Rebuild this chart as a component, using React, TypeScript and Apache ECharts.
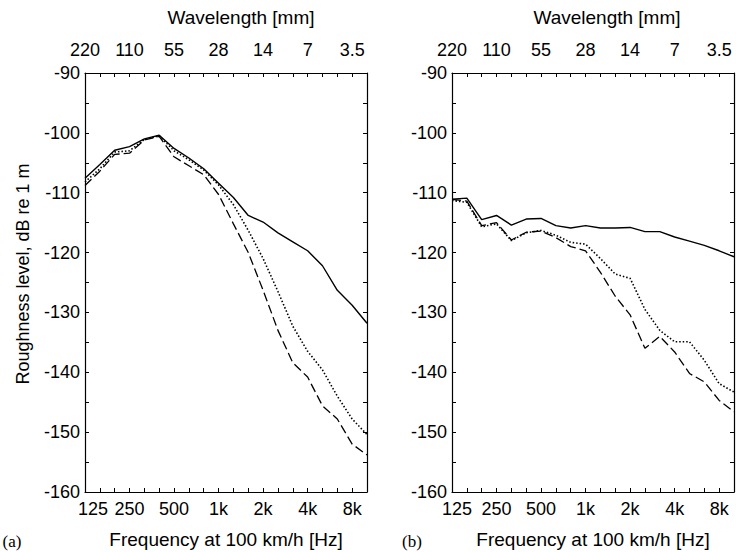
import React, { useEffect, useRef } from "react";
import * as echarts from "echarts";

// third-octave band centre frequencies at 100 km/h [Hz]
const bands = ["125", "160", "200", "250", "315", "400", "500", "630", "800", "1k", "1.25k", "1.6k", "2k", "2.5k", "3.15k", "4k", "5k", "6.3k", "8k", "10k"];
// wavelength labels [mm] shown every octave on the top axis
const wavelengthLabels = ["220", "110", "55", "28", "14", "7", "3.5"];

// panel (a)
const aSolid = [-107.6, -105.3, -102.9, -102.3, -101.0, -100.4, -102.6, -104.2, -106.0, -108.4, -110.8, -113.8, -114.9, -116.7, -118.2, -119.7, -122.2, -126.3, -128.8, -131.8];
const aDotted = [-108.2, -106.0, -103.2, -103.0, -101.1, -100.5, -103.0, -104.5, -106.2, -108.7, -112.0, -116.3, -121.0, -126.5, -132.3, -136.5, -139.6, -144.0, -147.8, -150.4];
const aDashed = [-108.8, -106.4, -103.6, -103.4, -101.2, -100.6, -104.0, -105.5, -107.0, -110.3, -115.2, -120.0, -126.3, -133.0, -138.4, -140.8, -145.6, -147.8, -152.0, -153.8];

// panel (b)
const bSolid = [-111.1, -110.9, -114.5, -113.8, -115.4, -114.4, -114.3, -115.5, -115.9, -115.5, -115.9, -115.9, -115.8, -116.5, -116.5, -117.4, -118.1, -118.8, -119.7, -120.7];
const bDotted = [-111.3, -111.6, -115.7, -115.2, -118.0, -116.7, -116.3, -117.1, -118.3, -118.6, -121.0, -123.6, -124.3, -129.5, -133.0, -134.9, -134.9, -138.0, -141.9, -143.3];
const bDashed = [-111.1, -111.4, -115.5, -115.0, -117.9, -116.6, -116.4, -117.5, -119.0, -119.7, -123.3, -127.3, -130.4, -136.0, -134.0, -136.6, -140.2, -141.6, -144.7, -146.6];

const yMin = -160;
const yMax = -90;
const yStep = 5;

const FONT = "Liberation Sans, Arial, Helvetica, sans-serif";
const SERIF = "Liberation Serif, Times New Roman, serif";

const showOctave = (i: number) => i % 3 === 0 && i < 19;

function xAxes(gridIndex: number, firstShift: number) {
  const common = {
    type: "category",
    gridIndex,
    boundaryGap: false,
    axisLine: { show: true, onZero: false, lineStyle: { color: "#000", width: 1.2 } },
    axisTick: { show: true, inside: true, length: 4, interval: 0, lineStyle: { color: "#000", width: 1 } },
    splitLine: { show: false },
  };
  return [
    {
      ...common,
      data: bands.map((b, i) => (i === 0 ? { value: b, textStyle: { padding: [0, 0, 0, firstShift * 2] } } : b)),
      position: "bottom",
      axisLabel: { interval: showOctave, fontSize: 18, color: "#000", margin: 8, fontFamily: FONT },
    },
    {
      ...common,
      data: bands,
      position: "top",
      axisLabel: {
        interval: showOctave,
        fontSize: 18,
        color: "#000",
        margin: 14,
        fontFamily: FONT,
        formatter: (_v: string, i: number) => wavelengthLabels[i / 3] ?? "",
      },
    },
  ];
}

function yAxes(gridIndex: number) {
  const common = {
    type: "value",
    gridIndex,
    min: yMin,
    max: yMax,
    interval: yStep,
    axisLine: { show: true, onZero: false, lineStyle: { color: "#000", width: 1.2 } },
    axisTick: { show: true, inside: true, length: 4, lineStyle: { color: "#000", width: 1 } },
    splitLine: { show: false },
  };
  return [
    {
      ...common,
      position: "left",
      axisLabel: {
        fontSize: 18,
        color: "#000",
        margin: 5,
        fontFamily: FONT,
        formatter: (v: number) => (v % 10 === 0 ? String(v) : ""),
      },
    },
    { ...common, position: "right", axisLabel: { show: false } },
  ];
}

function line(name: string, data: number[], xi: number, yi: number, kind: "solid" | "dotted" | "dashed") {
  const style: any = { color: "#000", width: 1.4, type: "solid" };
  if (kind === "dotted") {
    style.type = [1.5, 2];
    style.width = 1.6;
  }
  if (kind === "dashed") {
    style.type = [9, 4];
    style.width = 1.3;
  }
  return {
    name,
    type: "line",
    xAxisIndex: xi,
    yAxisIndex: yi,
    data,
    showSymbol: false,
    symbol: "none",
    lineStyle: style,
    silent: true,
  };
}

export default function App() {
  const ref = useRef<HTMLDivElement>(null);
  useEffect(() => {
    if (!ref.current) return;
    const chart = echarts.init(ref.current, undefined, { renderer: "svg" });
    const textStyle = (text: string, size: number, family = FONT) => ({
      text,
      fontSize: size,
      fontFamily: family,
      fill: "#000",
      textAlign: "center",
      textVerticalAlign: "middle",
    });
    chart.setOption({
      animation: false,
      backgroundColor: "#fff",
      grid: [
        { left: 85, right: 369, top: 73, bottom: 60 },
        { left: 452, right: 2, top: 73, bottom: 60 },
      ],
      xAxis: [...xAxes(0, 8), ...xAxes(1, 5)],
      yAxis: [...yAxes(0), ...yAxes(1)],
      series: [
        line("a-solid", aSolid, 0, 0, "solid"),
        line("a-dotted", aDotted, 0, 0, "dotted"),
        line("a-dashed", aDashed, 0, 0, "dashed"),
        line("b-solid", bSolid, 2, 2, "solid"),
        line("b-dotted", bDotted, 2, 2, "dotted"),
        line("b-dashed", bDashed, 2, 2, "dashed"),
      ],
      graphic: [
        { type: "text", x: 241, y: 17, style: textStyle("Wavelength [mm]", 19) },
        { type: "text", x: 607, y: 17, style: textStyle("Wavelength [mm]", 19) },
        { type: "text", x: 226, y: 539, style: textStyle("Frequency at 100 km/h [Hz]", 19) },
        { type: "text", x: 593, y: 539, style: textStyle("Frequency at 100 km/h [Hz]", 19) },
        { type: "text", x: 23, y: 274, rotation: Math.PI / 2, style: textStyle("Roughness level, dB re 1 m", 18) },
        { type: "text", x: 12, y: 541, style: textStyle("(a)", 17, SERIF) },
        { type: "text", x: 412, y: 541, style: textStyle("(b)", 17, SERIF) },
      ],
    });
    return () => chart.dispose();
  }, []);
  return <div ref={ref} style={{ width: 736, height: 552, position: "absolute", left: 0, top: 0 }} />;
}
